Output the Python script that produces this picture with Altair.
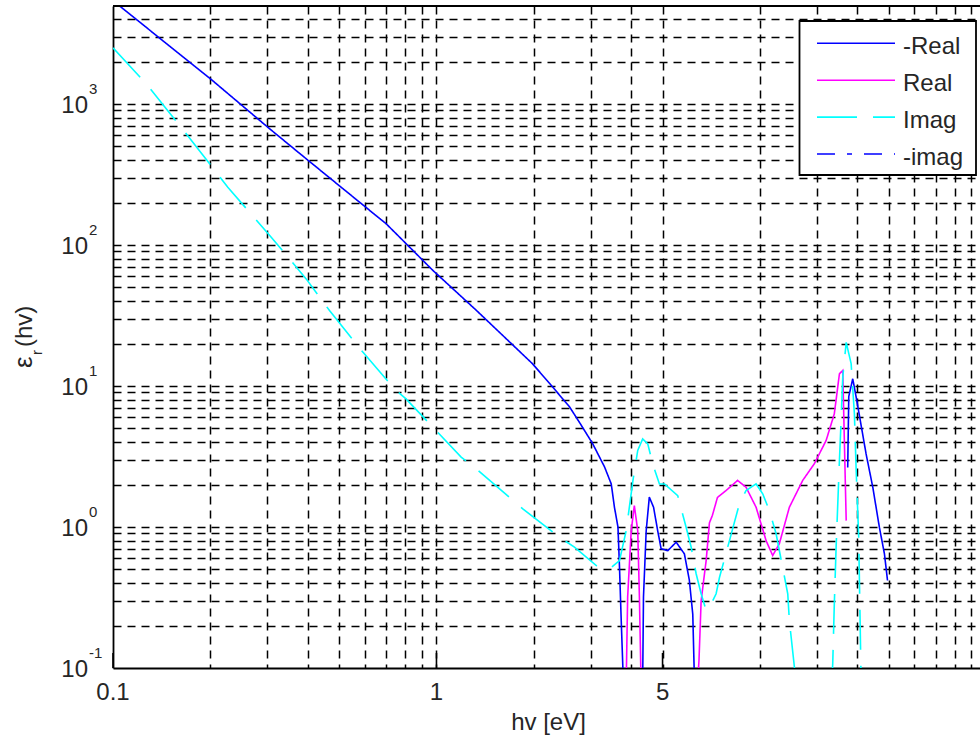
import altair as alt
import pandas as pd

# ---------------- data ----------------
# -Real (blue solid), first branch
nrA_x = [0.1, 0.2, 0.305, 0.396, 0.5, 0.7, 0.975, 1.33, 1.98, 2.24, 2.58, 2.77, 3.04, 3.31, 3.47, 3.55, 3.64, 3.68, 3.72, 3.79]
nrA_y = [5400, 1510, 667, 408, 264, 141, 66, 34.3, 14.4, 10.4, 7.1, 5.5, 3.9, 2.66, 2.02, 1.38, 1.0, 0.52, 0.24, 0.07]
# Real (magenta solid), first hump
rA_x = [3.86, 3.90, 4.00, 4.09, 4.19, 4.24, 4.29]
rA_y = [0.08, 0.32, 0.94, 1.42, 0.94, 0.32, 0.08]
# -Real, second branch
nrB_x = [4.34, 4.365, 4.45, 4.55, 4.69, 4.83, 4.95, 5.19, 5.51, 5.84, 6.05, 6.2, 6.275]
nrB_y = [0.08, 0.32, 0.94, 1.63, 1.38, 0.94, 0.70, 0.68, 0.78, 0.645, 0.42, 0.24, 0.08]
# Real, second branch
rB_x = [6.42, 6.48, 6.58, 6.82, 6.98, 7.13, 7.39, 7.86, 8.53, 9.06, 9.73, 10.45, 10.95, 11.48,
        12.33, 13.56, 14.73, 16.02, 16.98, 17.61, 18.03, 18.48]
rB_y = [0.08, 0.113, 0.30, 0.58, 1.07, 1.21, 1.62, 1.815, 2.14, 1.915, 1.38, 0.80, 0.628, 0.76,
        1.38, 2.14, 2.81, 4.11, 6.35, 12.2, 12.9, 1.11]
# -Real, third branch
nrC_x = [18.68, 18.82, 19.36, 19.84, 20.3, 21.29, 22.33, 23.4, 24.26, 24.8]
nrC_y = [2.64, 8.42, 11.25, 8.33, 6.18, 3.30, 1.915, 0.997, 0.645, 0.4175]
# Imag (cyan dashed)
imA_x = [0.1, 0.1267, 0.170, 0.2264, 0.3084, 0.3955, 0.467, 0.592, 0.741, 0.805, 1.192, 1.327, 1.702,
         1.849, 2.40, 2.67, 3.12, 3.43, 3.68, 3.86, 4.05, 4.19, 4.34, 4.50, 4.66, 4.89, 5.07, 5.57,
         5.91, 6.13, 6.35, 6.58, 6.82, 7.07, 7.32, 7.5, 8.05, 8.64, 9.06, 9.73, 10.2, 10.69, 11.22,
         11.75, 12.19, 12.33, 12.79, 12.95]
imA_y = [2500, 1390, 598, 257, 113.6, 57.5, 34.3, 17.4, 9.55, 8.11, 3.13, 2.59, 1.585,
         1.346, 0.847, 0.719, 0.533, 0.505, 0.578, 0.944, 2.14, 3.49, 4.22, 3.89, 2.81, 2.02, 2.02, 1.67,
         1.0, 0.719, 0.466, 0.336, 0.256, 0.285, 0.336, 0.44, 0.80, 1.46, 1.815, 2.02, 1.72, 1.31, 0.895,
         0.519, 0.336, 0.217, 0.1, 0.07]
imB_x = [16.63, 16.79, 16.98, 17.2, 17.61, 17.82, 18.03, 18.48, 19.14, 19.59, 19.84, 20.2, 20.55]
imB_y = [0.07, 0.107, 0.285, 0.719, 2.96, 5.69, 11.5, 20.4, 14.4, 6.35, 2.51, 0.847, 0.08]

series_names = ["-Real", "Real", "Imag", "-imag"]
series_colors = ["#0000FF", "#FF00FF", "#00FFFF", "#0000FF"]
series_dash = [[1, 0], [1, 0], [40, 16], [18, 12, 5, 12]]

x_tick_vals = [0.1, 1, 5]
x_tick_labels = ["0.1", "1", "5"]
x_grid_vals = [0.2, 0.3, 0.4, 0.5, 0.6, 0.7, 0.8, 0.9, 1, 2, 3, 4, 5, 10, 15, 20, 25, 30, 35, 40, 45]
y_tick_vals = [0.1, 1, 10, 100, 1000]
y_tick_exps = ["-1", "0", "1", "2", "3"]
y_grid_vals = [0.2, 0.3, 0.4, 0.5, 0.6, 0.7, 0.8, 0.9,
               1, 2, 3, 4, 5, 6, 7, 8, 9,
               10, 20, 30, 40, 50, 60, 70, 80, 90,
               100, 200, 300, 400, 500, 600, 700, 800, 900,
               1000, 2000, 3000, 4000]

# ---------------- table ----------------
segments = [
    ("-Real", "nrA", nrA_x, nrA_y),
    ("Real", "rA", rA_x, rA_y),
    ("-Real", "nrB", nrB_x, nrB_y),
    ("Real", "rB", rB_x, rB_y),
    ("-Real", "nrC", nrC_x, nrC_y),
    ("Imag", "imA", imA_x, imA_y),
    ("Imag", "imB", imB_x, imB_y),
]
rows = []
for s, seg, xs, ys in segments:
    for xv, yv in zip(xs, ys):
        rows.append({"series": s, "seg": seg, "x": xv, "y": yv})
df = pd.DataFrame(rows)

W, H = 867, 662
FONT = "Liberation Sans"
TXT = "#262626"

xscale = alt.Scale(type="log", domain=[0.1, 47.9], nice=False)
yscale = alt.Scale(type="log", domain=[0.1, 4955], nice=False)
cscale = alt.Scale(domain=series_names, range=series_colors)
dscale = alt.Scale(domain=series_names, range=series_dash)

grid_kw = dict(grid=True, gridColor="black", gridDash=[8, 6], gridWidth=1.5, gridOpacity=1,
               labels=False, ticks=False, domain=True, domainColor="black", domainWidth=1.8,
               title=None)

lines = alt.Chart(df).mark_line(clip=True, strokeWidth=1.6).encode(
    x=alt.X("x:Q", scale=xscale, axis=alt.Axis(values=x_grid_vals, **grid_kw)),
    y=alt.Y("y:Q", scale=yscale, axis=alt.Axis(values=y_grid_vals, **grid_kw)),
    color=alt.Color("series:N", scale=cscale, legend=None),
    strokeDash=alt.StrokeDash("series:N", scale=dscale, legend=None),
    detail="seg:N",
)

one = pd.DataFrame({"k": [1]})
top_border = alt.Chart(one).mark_rule(color="black", strokeWidth=1.8).encode(
    x=alt.value(0), x2=alt.value(W), y=alt.value(0)
)

xt_df = pd.DataFrame({"v": x_tick_vals, "lab": x_tick_labels})
inward_ticks = alt.Chart(xt_df).mark_rule(color="black", strokeWidth=1.6).encode(
    x=alt.X("v:Q", scale=xscale, axis=None), y=alt.value(H), y2=alt.value(H - 15)
)
x_labels = alt.Chart(xt_df).mark_text(
    align="center", baseline="alphabetic", fontSize=24, font=FONT, color=TXT
).encode(x=alt.X("v:Q", scale=xscale, axis=None), y=alt.value(H + 32), text="lab:N")

yt_df = pd.DataFrame({"v": y_tick_vals, "e": y_tick_exps})
y_base = alt.Chart(yt_df).mark_text(
    align="right", baseline="alphabetic", fontSize=24, font=FONT, color=TXT, dy=9
).encode(x=alt.value(-25), y=alt.Y("v:Q", scale=yscale, axis=None), text=alt.value("10"))
y_exp = alt.Chart(yt_df).mark_text(
    align="left", baseline="alphabetic", fontSize=15, font=FONT, color=TXT, dy=-10
).encode(x=alt.value(-24), y=alt.Y("v:Q", scale=yscale, axis=None), text="e:N")

x_title = alt.Chart(one).mark_text(
    align="center", baseline="alphabetic", fontSize=24, font=FONT, color=TXT
).encode(x=alt.value(435.5), y=alt.value(H + 62), text=alt.value("hv [eV]"))

yt_eps = alt.Chart(one).mark_text(
    align="left", baseline="alphabetic", fontSize=26, font=FONT, color=TXT, angle=270
).encode(x=alt.value(-81), y=alt.value(362), text=alt.value("ε"))
yt_sub = alt.Chart(one).mark_text(
    align="left", baseline="alphabetic", fontSize=15, font=FONT, color=TXT, angle=270
).encode(x=alt.value(-71), y=alt.value(349), text=alt.value("r"))
yt_rest = alt.Chart(one).mark_text(
    align="left", baseline="alphabetic", fontSize=24, font=FONT, color=TXT, angle=270
).encode(x=alt.value(-81), y=alt.value(341), text=alt.value("(hv)"))

leg_df = pd.DataFrame({"series": series_names, "i": [0, 1, 2, 3]})
leg_box = alt.Chart(one).mark_rect(fill="white", stroke="black", strokeWidth=1.8).encode(
    x=alt.value(686.5), x2=alt.value(863), y=alt.value(15), y2=alt.value(169)
)
leg_lines = alt.Chart(leg_df).transform_calculate(py="37.3 + 36.9*datum.i").mark_rule(
    strokeWidth=1.6
).encode(
    x=alt.value(704), x2=alt.value(782),
    y=alt.Y("py:Q", scale=None, axis=None),
    color=alt.Color("series:N", scale=cscale, legend=None),
    strokeDash=alt.StrokeDash("series:N", scale=dscale, legend=None),
)
leg_text = alt.Chart(leg_df).transform_calculate(py="48 + 36.9*datum.i").mark_text(
    align="left", baseline="alphabetic", fontSize=24, font=FONT, color=TXT
).encode(x=alt.value(790), y=alt.Y("py:Q", scale=None, axis=None), text="series:N")

chart = alt.layer(
    lines, inward_ticks, top_border, x_labels, y_base, y_exp, x_title,
    yt_eps, yt_sub, yt_rest, leg_box, leg_lines, leg_text
).resolve_axis(x="independent", y="independent").properties(
    width=W, height=H, autosize="none",
    padding={"left": 113, "top": 6, "right": 0, "bottom": 72},
).configure_view(stroke=None)

chart.save("out.html", embed_options={"renderer": "svg", "actions": False})
